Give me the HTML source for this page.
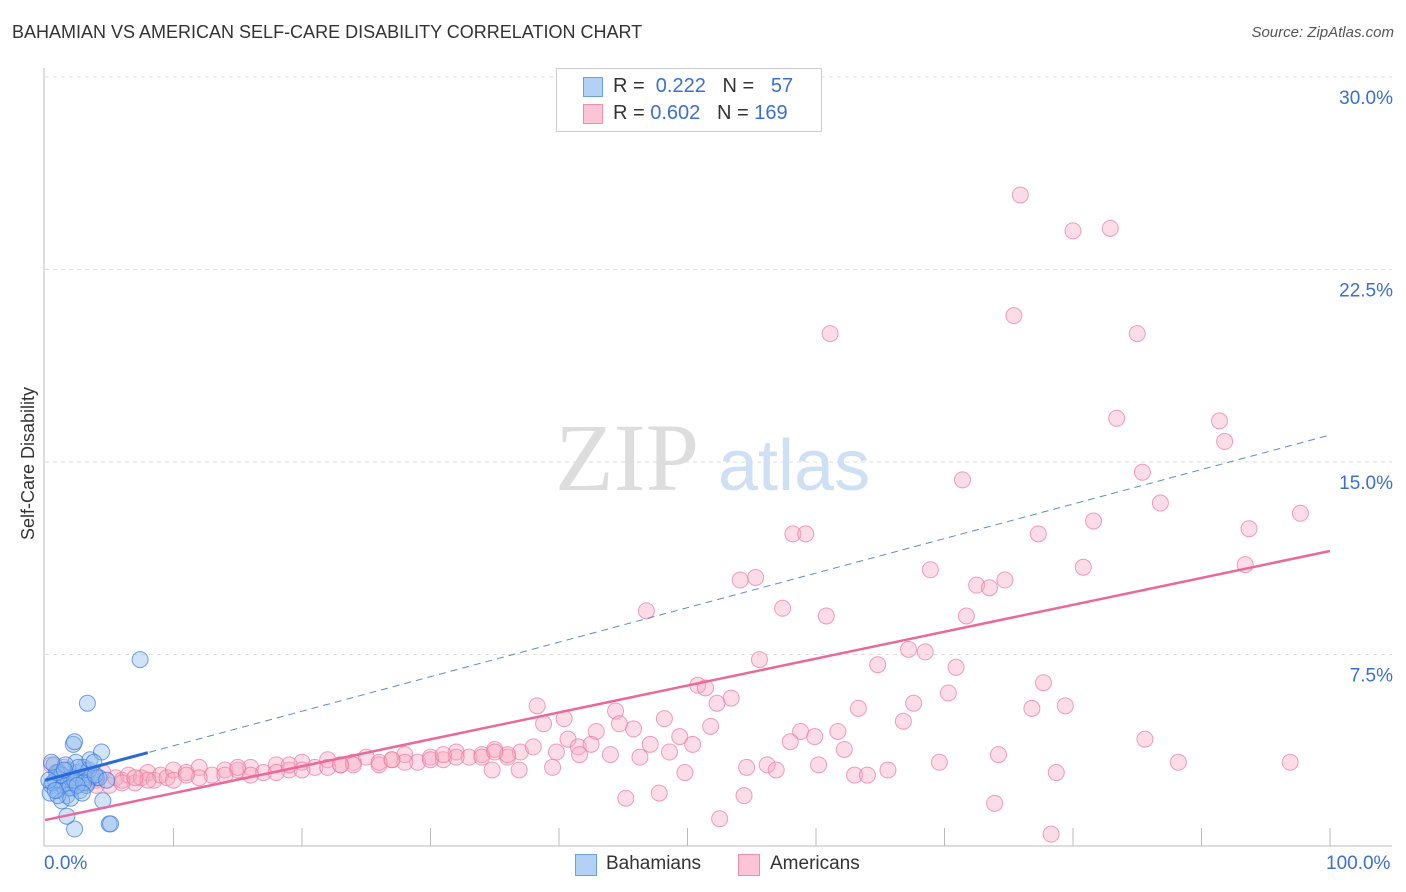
<!DOCTYPE html>
<html><head><meta charset="utf-8">
<style>
body{margin:0;background:#fff;font-family:"Liberation Sans",sans-serif;}
#wrap{position:relative;width:1406px;height:892px;overflow:hidden;}
.t{position:absolute;white-space:nowrap;}
</style></head>
<body>
<div id="wrap">
<div class="t" style="left:12px;top:22px;font-size:18px;color:#333;">BAHAMIAN VS AMERICAN SELF-CARE DISABILITY CORRELATION CHART</div>
<div class="t" style="right:12px;top:24px;font-size:15px;color:#555;font-style:italic;">Source: ZipAtlas.com</div>
<svg id="svg" width="1406" height="892" style="position:absolute;left:0;top:0"></svg>
<div style="position:absolute;left:556px;top:68px;width:264px;height:62px;border:1px solid #ccc;background:#fff;">
 <div style="position:absolute;left:26px;top:8px;width:18px;height:18px;background:#b3d0f5;border:1px solid #6a9fe0;"></div>
 <div class="t" style="left:56px;top:6px;font-size:20px;color:#333;">R = <span style="color:#3b6fd4">&nbsp;0.222</span>&nbsp;&nbsp;&nbsp;N = <span style="color:#3b6fd4">&nbsp;&nbsp;57</span></div>
 <div style="position:absolute;left:26px;top:35px;width:18px;height:18px;background:#fbc5d5;border:1px solid #ef8fab;"></div>
 <div class="t" style="left:56px;top:33px;font-size:20px;color:#333;">R = <span style="color:#3b6fd4">0.602</span>&nbsp;&nbsp;&nbsp;N = <span style="color:#3b6fd4">169</span></div>
</div>
<div style="position:absolute;left:575px;top:854px;width:20px;height:20px;background:#b3d0f5;border:1px solid #6a9fe0;"></div>
<div class="t" style="left:606px;top:853px;font-size:19px;color:#333;">Bahamians</div>
<div style="position:absolute;left:738px;top:854px;width:20px;height:20px;background:#fbc5d5;border:1px solid #ef8fab;"></div>
<div class="t" style="left:770px;top:853px;font-size:19px;color:#333;">Americans</div>
<div class="t" style="left:44px;top:853px;font-size:19px;color:#3b6fd4;">0.0%</div>
<div class="t" style="left:1326px;top:853px;font-size:19px;color:#3b6fd4;">100.0%</div>
<div class="t" style="left:18px;top:540px;font-size:18px;color:#333;transform:rotate(-90deg);transform-origin:0 0;">Self-Care Disability</div>
</div>
<script>
const yTicks=[7.5,15,22.5,30];
const yTickLabels=["7.5%","15.0%","22.5%","30.0%"];
const xTicks=[10,20,30,40,50,60,70,80,90,100];
const blueX=[0.5,0.8,1,1.2,1.5,1.8,2,2.2,2.5,2.8,3,3.3,3.6,4,0.4,0.7,1.1,1.4,1.7,2.1,2.4,2.7,3.1,3.4,0.6,1.3,1.9,2.6,3.2,0.9,1.6,2.3,3.5,4.2,7.4,3.3,2.2,2.3,4.4,3.8,5.0,5.1,2.3,1.7,4.5,1.3,0.5,1.0,2.0,3.0,0.3,1.5,2.5,3.9,4.8,0.8,2.9];
const blueY=[2.4,2.6,2.2,2.8,2.5,3.0,2.7,2.3,2.9,2.6,3.1,2.5,2.8,2.7,2.1,3.2,2.9,2.4,2.0,2.6,3.3,2.2,2.7,3.0,2.5,2.8,2.3,3.1,2.4,2.9,3.2,2.6,3.4,2.7,7.3,5.6,4.0,4.1,3.7,3.3,0.9,0.9,0.7,1.2,1.8,1.8,3.3,2.0,1.9,2.5,2.6,3.0,2.4,2.8,2.6,2.2,2.1];
const pinkX=[75.9,80.0,82.9,61.1,75.4,85.0,83.4,91.4,91.8,85.4,71.4,97.7,93.7,81.6,86.8,77.3,58.2,59.2,93.4,80.8,68.9,55.3,54.1,72.5,73.5,74.7,46.8,57.4,60.8,71.7,55.6,64.8,67.2,68.5,70.9,77.7,50.8,51.4,53.4,52.3,70.3,67.6,63.3,76.8,79.4,66.8,38.3,38.8,40.4,44.4,48.2,51.8,45.8,44.7,42.9,58.8,61.7,58.0,59.9,49.4,40.7,41.5,42.5,47.1,50.4,48.6,62.2,44.0,46.3,39.8,41.6,85.6,74.2,69.6,88.2,96.9,60.2,56.2,54.6,56.9,49.8,63.0,64.0,65.6,78.7,39.5,36.9,34.8,45.2,47.8,54.4,52.5,73.9,78.3,
0.5,1,1.5,2,2.5,3,3.5,4,4.5,5,5.5,6,6.5,7,7.5,8,8.5,9,9.5,10,11,12,13,14,15,16,17,18,19,20,21,22,23,24,25,26,27,28,29,30,31,32,33,34,35,36,37,38,2,4,6,8,10,12,14,16,18,20,22,24,26,28,30,32,34,36,3,7,11,15,19,23,27,31,35];
const pinkY=[25.4,24.0,24.1,20.0,20.7,20.0,16.7,16.6,15.8,14.6,14.3,13.0,12.4,12.7,13.4,12.2,12.2,12.2,11.0,10.9,10.8,10.5,10.4,10.2,10.1,10.4,9.2,9.3,9.0,9.0,7.3,7.1,7.7,7.6,7.0,6.4,6.3,6.2,5.8,5.6,6.0,5.6,5.4,5.4,5.5,4.9,5.5,4.8,5.0,5.3,5.0,4.7,4.6,4.8,4.5,4.5,4.5,4.1,4.3,4.3,4.2,3.9,4.0,4.0,4.0,3.7,3.8,3.6,3.5,3.7,3.6,4.2,3.6,3.3,3.3,3.3,3.2,3.2,3.1,3.0,2.9,2.8,2.8,3.0,2.9,3.1,3.0,3.0,1.9,2.1,2.0,1.1,1.7,0.5,
3.2,2.9,3.1,2.7,2.5,3.0,2.8,2.6,2.9,2.4,2.7,2.6,2.8,2.5,2.7,2.9,2.6,2.8,2.7,3.0,2.9,3.1,2.8,3.0,3.0,3.1,2.9,3.2,3.0,3.3,3.1,3.4,3.2,3.3,3.5,3.2,3.4,3.6,3.3,3.5,3.4,3.7,3.5,3.6,3.8,3.5,3.7,3.9,2.3,2.4,2.5,2.6,2.6,2.7,2.8,2.8,2.9,3.0,3.1,3.2,3.3,3.3,3.4,3.5,3.5,3.6,2.6,2.7,2.8,3.1,3.2,3.2,3.4,3.6,3.7];
const pinkTrend=[1.05,11.53];
const blueTrend=[2.6,16.05];
const blueSolidEnd=[8];
const svg=document.getElementById('svg');const NS='http://www.w3.org/2000/svg';
const X=v=>45+v*12.85, Y=v=>847-v*25.67;
function mk(t,a,name){const e=document.createElementNS(NS,t);for(const k in a)e.setAttribute(k,a[k]);


svg.appendChild(e);return e;}
yTicks.forEach((v,i)=>{mk('line',{x1:45,x2:1392,y1:Y(v),y2:Y(v),stroke:'#ddd','stroke-dasharray':'4,4'},'gridline');
const t=mk('text',{x:1393,y:Y(v)+27,'text-anchor':'end','font-size':19,fill:'#3b6fd4','font-family':'Liberation Sans'},'y-tick-label');t.textContent=yTickLabels[i];});
mk('line',{x1:44,x2:44,y1:68,y2:846,stroke:'#bbb'},'y-axis');
mk('line',{x1:44,x2:1392,y1:846,y2:846,stroke:'#bbb'},'x-axis');
xTicks.forEach(v=>mk('line',{x1:X(v),x2:X(v),y1:828,y2:846,stroke:'#bbb'},'x-tick'));
const wm=mk('text',{x:555,y:490,'font-size':96,fill:'#ddd','font-family':'Liberation Serif'},'watermark-zip');wm.textContent='ZIP';
const wm2=mk('text',{x:718,y:490,'font-size':72,fill:'#cfe0f5','font-family':'Liberation Sans'},'watermark-atlas');wm2.textContent='atlas';
pinkX.forEach((x,i)=>mk('circle',{cx:X(x),cy:Y(pinkY[i]),r:8,fill:'rgba(248,170,195,0.4)',stroke:'rgba(235,120,155,0.7)','stroke-width':1},'american-point'));
blueX.forEach((x,i)=>mk('circle',{cx:X(x),cy:Y(blueY[i]),r:8,fill:'rgba(140,185,240,0.4)',stroke:'rgba(60,120,220,0.7)','stroke-width':1},'bahamian-point'));
const bY=v=>blueTrend[0]+(blueTrend[1]-blueTrend[0])*v/100;
mk('line',{x1:X(0),y1:Y(bY(0)),x2:X(100),y2:Y(bY(100)),stroke:'#5a8ad8','stroke-width':1,'stroke-dasharray':'7,5'},'bahamian-trend-dashed');
mk('line',{x1:X(0),y1:Y(bY(0)),x2:X(blueSolidEnd[0]),y2:Y(bY(blueSolidEnd[0])),stroke:'#2a6ad8','stroke-width':3},'bahamian-trend');
mk('line',{x1:X(0),y1:Y(pinkTrend[0]),x2:X(100),y2:Y(pinkTrend[1]),stroke:'#e8699a','stroke-width':2.5},'american-trend');
</script>
</body></html>
